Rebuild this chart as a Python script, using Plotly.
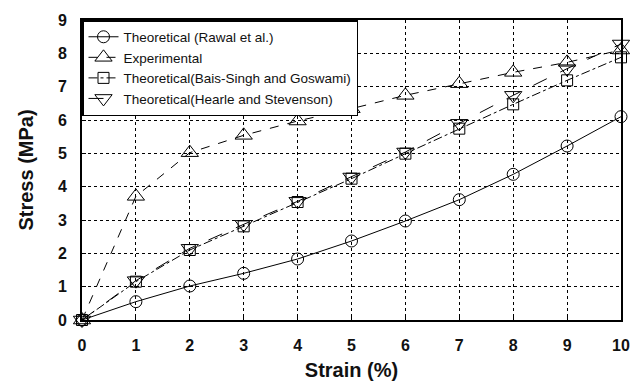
import plotly.graph_objects as go

strain = [0, 1, 2, 3, 4, 5, 6, 7, 8, 9, 10]
rawal = [0, 0.55, 1.02, 1.40, 1.83, 2.37, 2.97, 3.61, 4.37, 5.22, 6.10]
experimental = [0, 3.71, 5.02, 5.54, 5.97, 6.34, 6.74, 7.09, 7.43, 7.73, 8.10]
bais_singh = [0, 1.15, 2.10, 2.81, 3.54, 4.24, 4.99, 5.74, 6.47, 7.19, 7.88]
hearle = [0, 1.18, 2.15, 2.87, 3.56, 4.29, 5.04, 5.90, 6.74, 7.54, 8.28]

names = ["Theoretical (Rawal et al.)", "Experimental",
         "Theoretical(Bais-Singh and Goswami)", "Theoretical(Hearle and Stevenson)"]
x_ticks = list(range(0, 11))
y_ticks = list(range(0, 10))

FONT = "Liberation Sans, Arial"

fig = go.Figure()
series = [
    (rawal, names[0], "circle-open", "solid", 12),
    (experimental, names[1], "triangle-up-open", "dash", 15),
    (bais_singh, names[2], "square-open", "dashdot", 11),
    (hearle, names[3], "triangle-down-open", "longdash", 15),
]
for vals, nm, sym, dash, sz in series:
    fig.add_trace(go.Scatter(
        x=strain, y=vals, name=nm, mode="lines+markers",
        line=dict(color="black", width=1, dash=dash),
        marker=dict(symbol=sym, size=sz, color="black", line=dict(width=1, color="black")),
        cliponaxis=False,
    ))

axis_common = dict(
    showgrid=True, gridcolor="black", griddash="dot", gridwidth=1,
    showline=True, linecolor="black", linewidth=2, mirror=True,
    ticks="inside", ticklen=4, tickcolor="black",
    tickfont=dict(family=FONT, size=16, color="#111", weight="bold"),
    zeroline=False, automargin=False,
)

fig.update_xaxes(range=[0, 10], tickvals=x_ticks, ticklabelstandoff=10, **axis_common,
                 title=dict(text="Strain (%)", font=dict(family=FONT, size=20, color="#111", weight="bold"), standoff=10))
fig.update_yaxes(range=[0, 9], tickvals=y_ticks, ticklabelstandoff=10, **axis_common,
                 title=dict(text="Stress (MPa)", font=dict(family=FONT, size=20, color="#111", weight="bold"), standoff=19))

fig.update_layout(
    width=636, height=378,
    margin=dict(l=74, r=23, t=12, b=66),
    paper_bgcolor="white", plot_bgcolor="white",
    showlegend=True,
    legend=dict(x=0, y=1, xanchor="left", yanchor="top",
                bgcolor="white", bordercolor="black", borderwidth=1.5,
                font=dict(family=FONT, size=13.5, color="#111"),
                itemwidth=30, tracegroupgap=0),
)

fig.write_html("out.html")
